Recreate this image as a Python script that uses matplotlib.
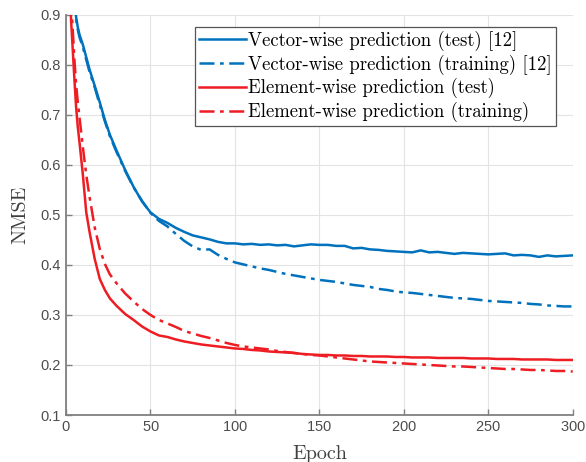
import matplotlib
matplotlib.use("Agg")
import matplotlib.pyplot as plt

# NMSE per epoch, read at these epochs
epochs = [1, 2, 3, 4, 5, 6, 7, 8, 10, 12, 14, 17, 20, 23, 26, 30, 35, 40, 45, 50,
          55, 60, 65, 70, 75, 80, 85, 90, 95, 100, 105, 110, 115, 120, 125, 130,
          135, 140, 145, 150, 155, 160, 165, 170, 175, 180, 185, 190, 195, 200,
          205, 210, 215, 220, 225, 230, 235, 240, 245, 250, 255, 260, 265, 270,
          275, 280, 285, 290, 295, 300]

vec_test = [1.2, 1.1, 1.02, 0.97, 0.925, 0.895, 0.875, 0.86, 0.84, 0.815, 0.79, 0.758,
            0.725, 0.69, 0.66, 0.628, 0.59, 0.556, 0.527, 0.505,
            0.492, 0.484, 0.474, 0.466, 0.459, 0.455, 0.451, 0.446, 0.443, 0.443,
            0.441, 0.442, 0.440, 0.441, 0.439, 0.440, 0.437, 0.439, 0.441, 0.440,
            0.440, 0.438, 0.438, 0.433, 0.434, 0.431, 0.430, 0.428, 0.427, 0.426,
            0.425, 0.429, 0.425, 0.426, 0.424, 0.422, 0.424, 0.423, 0.422, 0.421,
            0.422, 0.423, 0.419, 0.420, 0.419, 0.416, 0.419, 0.417, 0.418, 0.419]

vec_train = [1.2, 1.1, 1.02, 0.965, 0.92, 0.89, 0.87, 0.855, 0.835, 0.81, 0.785, 0.755,
             0.72, 0.687, 0.657, 0.625, 0.588, 0.555, 0.528, 0.504,
             0.488, 0.477, 0.462, 0.448, 0.437, 0.430, 0.431, 0.420, 0.412, 0.405,
             0.401, 0.397, 0.393, 0.390, 0.386, 0.382, 0.379, 0.376, 0.373, 0.370,
             0.368, 0.366, 0.363, 0.360, 0.358, 0.356, 0.352, 0.350, 0.347, 0.345,
             0.344, 0.342, 0.340, 0.338, 0.336, 0.334, 0.333, 0.332, 0.330, 0.328,
             0.327, 0.326, 0.325, 0.324, 0.322, 0.321, 0.319, 0.318, 0.317, 0.317]

elem_test = [1.15, 0.98, 0.89, 0.83, 0.77, 0.715, 0.675, 0.645, 0.58, 0.505, 0.465, 0.412,
             0.372, 0.35, 0.333, 0.318, 0.302, 0.29, 0.277, 0.267,
             0.259, 0.256, 0.251, 0.247, 0.244, 0.241, 0.239, 0.237, 0.235, 0.233,
             0.232, 0.230, 0.229, 0.227, 0.226, 0.225, 0.224, 0.222, 0.221, 0.220,
             0.220, 0.219, 0.219, 0.218, 0.218, 0.217, 0.217, 0.217, 0.216, 0.216,
             0.215, 0.215, 0.215, 0.214, 0.214, 0.214, 0.214, 0.213, 0.213, 0.213,
             0.212, 0.212, 0.212, 0.211, 0.211, 0.211, 0.211, 0.210, 0.210, 0.210]

elem_train = [1.2, 1.02, 0.93, 0.87, 0.81, 0.76, 0.725, 0.695, 0.635, 0.58, 0.535, 0.475,
              0.432, 0.402, 0.381, 0.363, 0.343, 0.327, 0.312, 0.300,
              0.290, 0.283, 0.276, 0.268, 0.263, 0.258, 0.254, 0.249, 0.244, 0.240,
              0.237, 0.235, 0.233, 0.231, 0.228, 0.226, 0.224, 0.222, 0.220, 0.219,
              0.217, 0.215, 0.213, 0.211, 0.209, 0.207, 0.206, 0.205, 0.204, 0.203,
              0.202, 0.201, 0.200, 0.199, 0.198, 0.197, 0.197, 0.196, 0.195, 0.194,
              0.193, 0.192, 0.192, 0.191, 0.190, 0.190, 0.189, 0.188, 0.188, 0.187]

labels = ["Vector-wise prediction (test) [12]",
          "Vector-wise prediction (training) [12]",
          "Element-wise prediction (test)",
          "Element-wise prediction (training)"]

blue = "#0072BD"
red = "#EE1D23"
dashdot = (0, (6, 2.2, 1.5, 2.2))
serif = ["cmr10", "DejaVu Serif"]

plt.rcParams["axes.formatter.use_mathtext"] = True

fig = plt.figure(figsize=(5.86, 4.62), dpi=100)
ax = fig.add_axes([0.1126, 0.1017, 0.8647, 0.8665])

ax.plot(epochs, vec_test, color=blue, lw=1.8, label=labels[0])
ax.plot(epochs, vec_train, color=blue, lw=1.8, ls=dashdot, label=labels[1])
ax.plot(epochs, elem_test, color=red, lw=1.8, label=labels[2])
ax.plot(epochs, elem_train, color=red, lw=1.8, ls=dashdot, label=labels[3])

ax.set_xlim(0, 300)
ax.set_ylim(0.1, 0.9)
ax.set_xticks(range(0, 301, 50))
ax.set_yticks([0.1, 0.2, 0.3, 0.4, 0.5, 0.6, 0.7, 0.8, 0.9])
ax.set_yticklabels(["0.1", "0.2", "0.3", "0.4", "0.5", "0.6", "0.7", "0.8", "0.9"])

ax.grid(True, color="#e3e3e3", lw=0.8)
ax.set_axisbelow(True)
for side in ["top", "right"]:
    ax.spines[side].set_visible(False)
for side in ["left", "bottom"]:
    ax.spines[side].set_color("#808080")
    ax.spines[side].set_linewidth(1.3)
ax.tick_params(direction="in", length=4, width=1, color="#808080",
               labelcolor="#4d4d4d", labelsize=10.5)
for t in ax.get_xticklabels() + ax.get_yticklabels():
    t.set_family(["Liberation Sans", "DejaVu Sans"])

ax.set_xlabel("Epoch", family=serif, fontsize=14.5, color="#404040", labelpad=8)
ax.set_ylabel("NMSE", family=serif, fontsize=14.5, color="#404040", labelpad=8)

leg = ax.legend(loc="upper right", prop={"family": serif, "size": 13.5},
                handlelength=2.5, handletextpad=0.15, borderpad=0.2,
                labelspacing=0.2, fancybox=False, framealpha=1,
                bbox_to_anchor=(0.967, 0.97), borderaxespad=0)
leg.get_frame().set_edgecolor("#555555")
leg.get_frame().set_linewidth(0.9)

fig.savefig("out.png", dpi=100)
